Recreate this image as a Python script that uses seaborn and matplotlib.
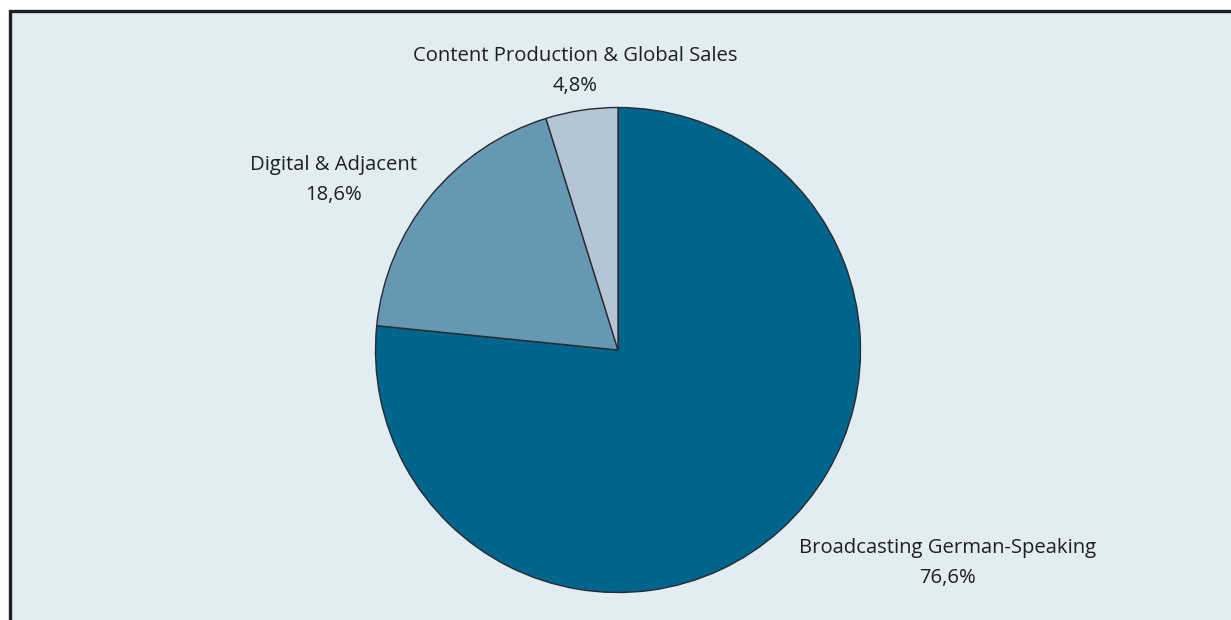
import matplotlib
matplotlib.use("Agg")
import matplotlib.pyplot as plt
import seaborn as sns
from matplotlib.patches import Rectangle

segments = ["Broadcasting German-Speaking", "Digital & Adjacent", "Content Production & Global Sales"]
shares = [76.6, 18.6, 4.8]
share_labels = ["76,6%", "18,6%", "4,8%"]
colors = ["#00658c", "#6698b4", "#b4c6d6"]

sns.set_theme(style="white")
plt.rcParams["font.family"] = ["Open Sans", "DejaVu Sans"]

W, H = 1231, 620
fig = plt.figure(figsize=(W / 100, H / 100), dpi=100, facecolor="white")

# light panel with a dark frame on the left and top
panel = Rectangle((9.5 / W, -0.2), 1.5, 1.2 - 10.5 / H, transform=fig.transFigure,
                  facecolor="#e1ecf3", edgecolor="#1c1c22", linewidth=2.4, zorder=-5)
fig.patches.append(panel)

ax = fig.add_axes([0, 0, 1, 1], zorder=1)
ax.patch.set_alpha(0)

cx, cy, r = 618, H - 350, 242.5
ax.pie(shares, colors=colors, startangle=90, counterclock=False,
       center=(cx, cy), radius=r, frame=True,
       wedgeprops=dict(edgecolor="#2a2a30", linewidth=1.0))
ax.set_xlim(0, W)
ax.set_ylim(0, H)
ax.set_aspect("equal")
ax.axis("off")

label_pos = {
    "Broadcasting German-Speaking": (948, 548),
    "Digital & Adjacent": (334, 165),
    "Content Production & Global Sales": (575, 56),
}
for name, txt in zip(segments, share_labels):
    x, y = label_pos[name]
    ax.text(x, H - y, name, ha="center", va="center", fontsize=14.6, color="#1e1e24")
    ax.text(x, H - y - 30, txt, ha="center", va="center", fontsize=14.6, color="#1e1e24")

fig.savefig("out.png", dpi=100, facecolor="white")
